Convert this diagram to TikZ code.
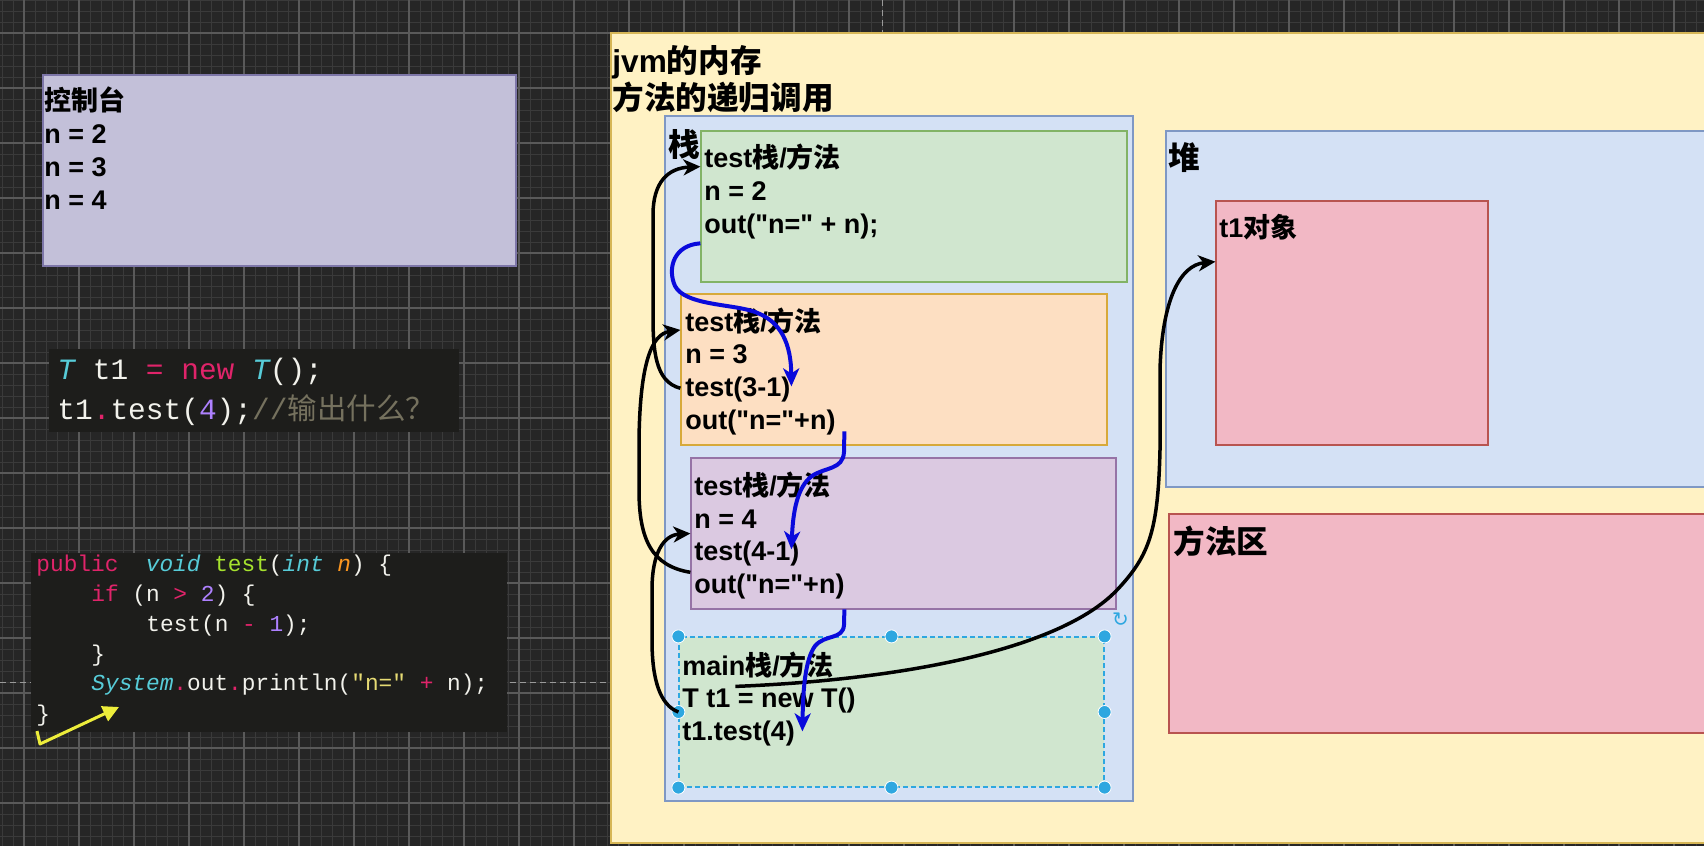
\documentclass[tikz,border=0pt]{standalone}
\usepackage{fontspec}
\setmainfont{Liberation Sans}[Ligatures=TeXOff]
\newfontfamily\cjkfont{Noto Sans CJK SC}
\newfontfamily\codefont{Liberation Mono}[Ligatures=TeXOff]
\newfontfamily\symfont{DejaVu Sans}
\usetikzlibrary{arrows.meta,fit,calc}

\definecolor{bgc}{HTML}{262626}
\definecolor{gminor}{HTML}{3A3A3A}
\definecolor{gmajor}{HTML}{5A5A5A}
\definecolor{guide}{HTML}{9A9A9A}
\definecolor{consfill}{HTML}{C3C0D9}
\definecolor{consdraw}{HTML}{7D76A8}
\definecolor{codebg}{HTML}{1D1D1B}
\definecolor{yelfill}{HTML}{FFF2C4}
\definecolor{yeldraw}{HTML}{D6B656}
\definecolor{blufill}{HTML}{D4E1F5}
\definecolor{bludraw}{HTML}{7F98C4}
\definecolor{grnfill}{HTML}{D0E6CF}
\definecolor{grndraw}{HTML}{82B366}
\definecolor{orafill}{HTML}{FDDFC2}
\definecolor{oradraw}{HTML}{D7A93A}
\definecolor{purfill}{HTML}{DBC9E1}
\definecolor{purdraw}{HTML}{9673A6}
\definecolor{pnkfill}{HTML}{F2B8C5}
\definecolor{pnkdraw}{HTML}{B85450}
\definecolor{selc}{HTML}{2EA7E0}
\definecolor{arrblue}{HTML}{0A0ADC}
\definecolor{yarrow}{HTML}{EDED3B}
\definecolor{cfg}{HTML}{F2F2EC}
\definecolor{ckw}{HTML}{E0246A}
\definecolor{cty}{HTML}{57CCD8}
\definecolor{cfn}{HTML}{A6E22E}
\definecolor{cpa}{HTML}{FD971F}
\definecolor{cnu}{HTML}{AE81FF}
\definecolor{cst}{HTML}{E6DB74}
\definecolor{ccm}{HTML}{75715E}

\newcommand{\zh}[1]{{\cjkfont #1}}
\newcommand{\dq}{"}
\newcommand{\ck}[1]{\textcolor{ckw}{#1}}
\newcommand{\ctp}[1]{\textcolor{cty}{\itshape #1}}
\newcommand{\cfn}[1]{\textcolor{cfn}{#1}}
\newcommand{\cpa}[1]{\textcolor{cpa}{\itshape #1}}
\newcommand{\cnu}[1]{\textcolor{cnu}{#1}}
\newcommand{\cst}[1]{\textcolor{cst}{#1}}

\tikzset{
  area/.style={inner sep=0pt, line width=0.6pt},
  lbl/.style={anchor=base west, inner sep=0pt, text=black, font=\fontsize{13.5}{16}\selectfont\bfseries},
  hdr/.style={anchor=base west, inner sep=0pt, text=black, font=\fontsize{15.8}{18}\selectfont\bfseries},
  codeA/.style={anchor=base west, inner sep=0pt, text=cfg, font=\codefont\fontsize{14.75}{17}\selectfont},
  codeB/.style={anchor=base west, inner sep=0pt, text=cfg, font=\codefont\fontsize{11.4}{14}\selectfont},
  handle/.style={circle, fill=selc, draw=white, line width=0.4pt, inner sep=0pt, minimum size=6.5pt},
  blackarrow/.style={draw=black, line width=1.75pt, -{Stealth[length=8.5pt,width=8pt,inset=2.5pt]}},
  bluearrow/.style={draw=arrblue, line width=2pt, -{Stealth[length=9pt,width=8pt,inset=2.5pt]}},
  yelarrow/.style={draw=yarrow, line width=1.5pt, line join=round, -{Triangle[length=8pt,width=8pt]}},
}

\begin{document}
\begin{tikzpicture}[x=0.5pt,y=-0.5pt]
\useasboundingbox (0,0) rectangle (1704,846);
\fill[bgc] (0,0) rectangle (1704,846);
% grid
\foreach \gx in {2,13,...,1704} \draw[gminor, line width=0.4pt] (\gx,0) -- (\gx,846);
\foreach \gy in {0,11,...,846} \draw[gminor, line width=0.4pt] (0,\gy) -- (1704,\gy);
\foreach \gx in {24,79,...,1704} \draw[gmajor, line width=0.6pt] (\gx,0) -- (\gx,846);
\foreach \gy in {33,88,...,846} \draw[gmajor, line width=0.6pt] (0,\gy) -- (1704,\gy);
% guide lines
\draw[guide, dash pattern=on 3pt off 2pt, line width=0.5pt] (0,682) -- (611,682);
\draw[guide, dash pattern=on 3pt off 2pt, line width=0.5pt] (882,0) -- (882,33);

% left panels
\node[area, fill=consfill, draw=consdraw, fit={(43,75) (516,266)}] (cons) {};
\node[area, fill=codebg, fit={(49,349) (459,432)}] (code1) {};
\node[area, fill=codebg, fit={(31,553) (507,732)}] (code2) {};

% jvm memory
\node[area, fill=yelfill, draw=yeldraw, fit={(611,33) (1712,843)}] (jvm) {};
\node[area, fill=blufill, draw=bludraw, fit={(665,116) (1133,801)}] (stack) {};
\node[area, fill=grnfill, draw=grndraw, fit={(701,131) (1127,282)}] (g1) {};
\node[area, fill=orafill, draw=oradraw, fit={(681,294) (1107,445)}] (or) {};
\node[area, fill=purfill, draw=purdraw, fit={(691,458) (1116,609)}] (pu) {};
\node[area, fill=grnfill, draw=selc, dash pattern=on 2.5pt off 1.5pt, fit={(679,637) (1104,787)}] (mn) {};
\node[area, fill=blufill, draw=bludraw, fit={(1166,131) (1712,487)}] (heap) {};
\node[area, fill=pnkfill, draw=pnkdraw, fit={(1216,201) (1488,445)}] (t1) {};
\node[area, fill=pnkfill, draw=pnkdraw, fit={(1169,514) (1712,733)}] (ma) {};

% console text
\node[lbl] (cs1) at (44,110) {\zh{控制台}};
\node[lbl] (cs2) at (44,143) {n = 2};
\node[lbl] (cs3) at (44,176) {n = 3};
\node[lbl] (cs4) at (44,209) {n = 4};

% code 1
\node[codeA] (k1) at (57,379) {\ctp{T} t1 \ck{=} \ck{new} \ctp{T}();};
\node[codeA] (k2) at (57,419) {t1\ck{.}test(\cnu{4});\textcolor{ccm}{//\zh{输出什么？}}};

% code 2
\node[codeB] (m1) at (36,571) {\ck{public}~~\ctp{void} \cfn{test}(\ctp{int} \cpa{n}) \{};
\node[codeB] (m2) at (91,601) {\ck{if} (n \ck{>} \cnu{2}) \{};
\node[codeB] (m3) at (146,631) {test(n \ck{-} \cnu{1});};
\node[codeB] (m4) at (91,661) {\}};
\node[codeB] (m5) at (91,690) {\ctp{System}\ck{.}out\ck{.}println(\cst{\dq n=\dq} \ck{+} n);};
\node[codeB] (m6) at (36,721) {\}};
\coordinate (ya) at (37,731);
\coordinate (yb) at (40,744);
\coordinate (yc) at (119,707);
\draw[yelarrow] (ya) -- (yb) -- (yc);

% headers
\node[hdr] (h1) at (612,72) {jvm\zh{的内存}};
\node[hdr] (h2) at (612,109) {\zh{方法的递归调用}};
\node[hdr] (hs) at (668,156) {\zh{栈}};
\node[hdr] (hh) at (1168,169) {\zh{堆}};
\node[hdr] (hm) at (1173,553) {\zh{方法区}};
\node[lbl] (ht) at (1219,237) {t1\zh{对象}};

% frame texts
\node[lbl] (g1a) at (704,167) {test\zh{栈}/\zh{方法}};
\node[lbl] (g1b) at (704,200) {n = 2};
\node[lbl] (g1c) at (704,233) {out(\dq n=\dq{} + n);};

\node[lbl] (ora) at (685,331) {test\zh{栈}/\zh{方法}};
\node[lbl] (orb) at (685,363) {n = 3};
\node[lbl] (orc) at (685,396) {test(3-1)};
\node[lbl] (ord) at (685,429) {out(\dq n=\dq+n)};

\node[lbl] (pua) at (694,495) {test\zh{栈}/\zh{方法}};
\node[lbl] (pub) at (694,528) {n = 4};
\node[lbl] (puc) at (694,560) {test(4-1)};
\node[lbl] (pud) at (694,593) {out(\dq n=\dq+n)};

\node[lbl] (mna) at (682,675) {main\zh{栈}/\zh{方法}};
\node[lbl] (mnb) at (682,707) {T t1 = new T()};
\node[lbl] (mnc) at (682,740) {t1.test(4)};

% selection handles
\foreach \a/\n in {north west/s1, north/s2, north east/s3, west/s4, east/s5, south west/s6, south/s7, south east/s8}
  \node[handle] (\n) at (mn.\a) {};
\node[inner sep=0pt, text=selc, font=\symfont\fontsize{10}{10}\selectfont] (rot) at ([shift={(16,-17)}]mn.north east) {↻};

% black call arrows
\draw[blackarrow] ($(or.north west)!0.623!(or.south west)$)
  .. controls (655,382) and (653,350) .. (653,315) -- (653,215)
  .. controls (653,182) and (668,168) .. ($(g1.north west)!0.238!(g1.south west)$);
\draw[blackarrow] ($(pu.north west)!0.755!(pu.south west)$)
  .. controls (652,566) and (639,540) .. (639,490) -- (639,440)
  .. controls (640,362) and (652,334) .. ($(or.north west)!0.24!(or.south west)$);
\draw[blackarrow] (mn.west)
  .. controls (660,705) and (652,680) .. (652,640) -- (652,590)
  .. controls (652,552) and (664,535) .. (pu.west);
\draw[blackarrow] ([shift={(57,50)}]mn.north west)
  .. controls (900,680) and (1060,650) .. (1117,590)
  .. controls (1150,555) and (1158,530) .. (1160,450) -- (1160,370)
  .. controls (1162,300) and (1180,265) .. ($(t1.north west)!0.25!(t1.south west)$);

% blue return arrows
\draw[bluearrow] ($(g1.north west)!0.742!(g1.south west)$)
  .. controls (674,245) and (667,268) .. (675,286)
  .. controls (685,305) and (730,304) .. (752,311)
  .. controls (782,320) and (791,345) .. ([shift={(111,93)}]or.north west);
\draw[bluearrow] ([shift={(164,138)}]or.north west) -- (844,452)
  .. controls (843,470) and (825,467) .. (812,476)
  .. controls (797,487) and (793,512) .. ([shift={(101,92)}]pu.north west);
\draw[bluearrow] ([shift={(154,152)}]pu.north west) -- (844,625)
  .. controls (843,640) and (825,634) .. (815,646)
  .. controls (805,660) and (803,690) .. ([shift={(124,95)}]mn.north west);
\end{tikzpicture}
\end{document}
